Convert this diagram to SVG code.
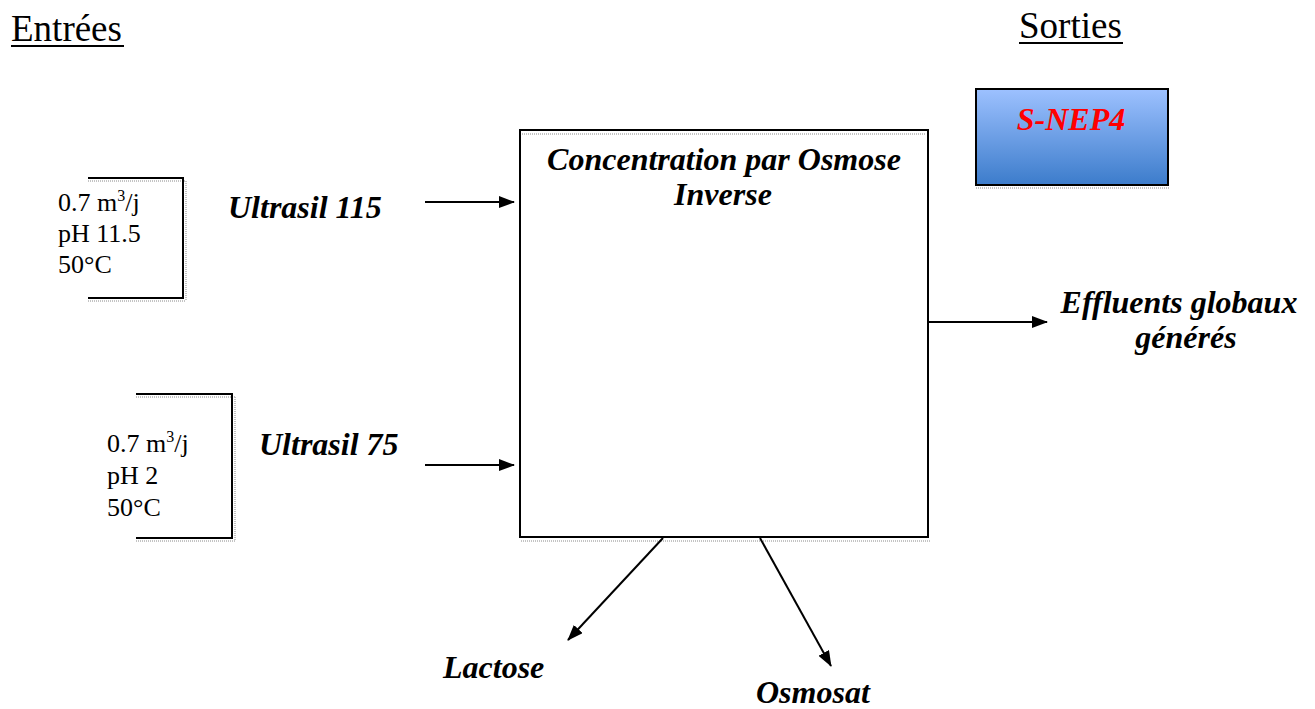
<svg xmlns="http://www.w3.org/2000/svg" width="1315" height="709" viewBox="0 0 1315 709">
<defs>
<marker id="ah" markerWidth="16" markerHeight="12" refX="15" refY="6" orient="auto" markerUnits="userSpaceOnUse">
<path d="M0,0 L16,6 L0,12 Z" fill="#000"/>
</marker>
<linearGradient id="blue" x1="0" y1="0" x2="0" y2="1">
<stop offset="0" stop-color="#9dc1ff"/>
<stop offset="1" stop-color="#3c7ccb"/>
</linearGradient>
</defs>
<style>
.head{font-family:"Liberation Serif","Times New Roman",serif;font-size:37px;fill:#000}
.body{font-family:"Liberation Serif","Times New Roman",serif;font-size:26px;fill:#000}
.lbl{font-family:"Liberation Serif","Times New Roman",serif;font-size:32px;font-weight:bold;font-style:italic;fill:#000}
.box{fill:#fff;stroke:#000;stroke-width:2}
.br{fill:none;stroke:#000;stroke-width:2}
.sh{fill:none;stroke:#c4c4c4;stroke-width:2;stroke-dasharray:1 1}
.con{stroke:#000;stroke-width:2;fill:none;marker-end:url(#ah)}
</style>
<rect width="1315" height="709" fill="#fff"/>

<g id="title-entrees">
<text class="head" x="11" y="41">Entrées</text>
<line x1="11" y1="46" x2="124" y2="46" stroke="#000" stroke-width="2"/>
</g>
<g id="title-sorties">
<text class="head" x="1019" y="38">Sorties</text>
<line x1="1019" y1="43" x2="1123" y2="43" stroke="#000" stroke-width="2"/>
</g>

<g id="bracket-1">
<line class="sh" x1="88" y1="181" x2="185" y2="181"/>
<line class="sh" x1="88" y1="301" x2="185" y2="301"/>
<line class="sh" x1="186" y1="181" x2="186" y2="301"/>
<path class="br" d="M88,178 H183 V298 H88"/>
<text class="body" x="58" y="211">0.7 m<tspan font-size="16" dy="-10">3</tspan><tspan dy="10">/j</tspan></text>
<text class="body" x="58" y="242">pH 11.5</text>
<text class="body" x="58" y="273">50°C</text>
</g>

<g id="bracket-2">
<line class="sh" x1="136" y1="397" x2="235" y2="397"/>
<line class="sh" x1="136" y1="541" x2="235" y2="541"/>
<line class="sh" x1="235" y1="397" x2="235" y2="541"/>
<path class="br" d="M136,394 H232 V538 H136"/>
<text class="body" x="107" y="452">0.7 m<tspan font-size="16" dy="-10">3</tspan><tspan dy="10">/j</tspan></text>
<text class="body" x="107" y="484">pH 2</text>
<text class="body" x="107" y="516">50°C</text>
</g>

<g id="label-ultrasil-115">
<text class="lbl" x="228" y="218">Ultrasil 115</text>
</g>
<g id="label-ultrasil-75">
<text class="lbl" x="259" y="455">Ultrasil 75</text>
</g>

<g id="process">
<line class="sh" x1="521" y1="541" x2="930" y2="541"/>
<rect class="box" x="520" y="130" width="408" height="407"/>
<line class="sh" x1="522" y1="134" x2="926" y2="134"/>
<text class="lbl" x="724" y="170" text-anchor="middle">Concentration par Osmose</text>
<text class="lbl" x="723" y="205" text-anchor="middle">Inverse</text>
</g>

<g id="s-nep4">
<line class="sh" x1="976" y1="188" x2="1169" y2="188"/>
<rect x="976" y="89" width="192" height="96" fill="url(#blue)" stroke="#000" stroke-width="2"/>
<text class="lbl" x="1071" y="130" text-anchor="middle" style="fill:#ff0000">S-NEP4</text>
</g>

<g id="label-effluents">
<text class="lbl" x="1179" y="313" text-anchor="middle">Effluents globaux</text>
<text class="lbl" x="1186" y="348" text-anchor="middle">générés</text>
</g>
<g id="label-lactose">
<text class="lbl" x="443" y="678">Lactose</text>
</g>
<g id="label-osmosat">
<text class="lbl" x="756" y="703">Osmosat</text>
</g>

<g id="connectors">
<line class="con" x1="425" y1="202" x2="514" y2="202"/>
<line class="con" x1="425" y1="465" x2="514" y2="465"/>
<line class="con" x1="929" y1="322" x2="1047" y2="322"/>
<line class="con" x1="663" y1="538" x2="568" y2="640"/>
<line class="con" x1="760" y1="538" x2="831" y2="666"/>
</g>
</svg>
